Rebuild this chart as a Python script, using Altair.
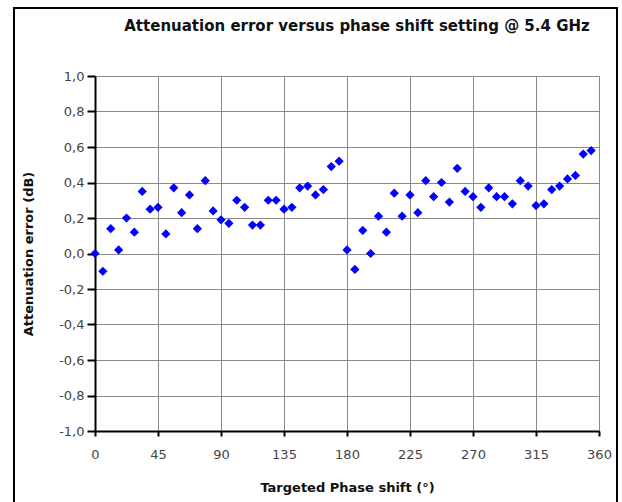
import altair as alt
import pandas as pd

# 64 phase states, step 5.625 deg
phase_step = 5.625
att_error = [
    0.00, -0.10, 0.14, 0.02, 0.20, 0.12, 0.35, 0.25, 0.26, 0.11,
    0.37, 0.23, 0.33, 0.14, 0.41, 0.24, 0.19, 0.17, 0.30, 0.26,
    0.16, 0.16, 0.30, 0.30, 0.25, 0.26, 0.37, 0.38, 0.33, 0.36,
    0.49, 0.52, 0.02, -0.09, 0.13, 0.00, 0.21, 0.12, 0.34, 0.21,
    0.33, 0.23, 0.41, 0.32, 0.40, 0.29, 0.48, 0.35, 0.32, 0.26,
    0.37, 0.32, 0.32, 0.28, 0.41, 0.38, 0.27, 0.28, 0.36, 0.38,
    0.42, 0.44, 0.56, 0.58,
]
phase = [i * phase_step for i in range(len(att_error))]

x_ticks = [0, 45, 90, 135, 180, 225, 270, 315, 360]
y_ticks = [-1.0, -0.8, -0.6, -0.4, -0.2, 0.0, 0.2, 0.4, 0.6, 0.8, 1.0]

title_text = "Attenuation error versus phase shift setting @ 5.4 GHz"
x_title = "Targeted Phase shift (°)"
y_title = "Attenuation error (dB)"

df = pd.DataFrame({"phase": phase, "err": att_error})

FONT = "DejaVu Sans"

points = alt.Chart(df).mark_point(
    shape="diamond", filled=True, color="#0000FF", size=85, opacity=1
).encode(
    x=alt.X(
        "phase:Q",
        scale=alt.Scale(domain=[0, 360], nice=False),
        axis=alt.Axis(
            values=x_ticks,
            title=x_title,
            format="d",
            tickSize=5,
            labelPadding=12,
            labelFlush=False,
            titlePadding=20,
            grid=True,
        ),
    ),
    y=alt.Y(
        "err:Q",
        scale=alt.Scale(domain=[-1, 1], nice=False),
        axis=alt.Axis(
            values=y_ticks,
            title=y_title,
            labelExpr="(datum.value < -0.0001 ? '-' : '') + replace(format(abs(datum.value), '.1f'), '.', ',')",
            tickSize=8,
            labelPadding=3,
            labelFlush=False,
            titlePadding=23,
            grid=True,
        ),
    ),
)

border = alt.Chart(pd.DataFrame({"a": [0]})).mark_rect(
    fill=None, stroke="black", strokeWidth=2, clip=False
).encode(
    x=alt.value(-81), x2=alt.value(522), y=alt.value(-68), y2=alt.value(440)
)

title = alt.Chart(pd.DataFrame({"t": [title_text]})).mark_text(
    font=FONT, fontSize=15, fontWeight="bold", color="#111",
    align="center", baseline="middle", clip=False
).encode(
    text="t:N", x=alt.value(262), y=alt.value(-50)
)

chart = alt.layer(border, title, points).properties(
    width=504,
    height=355,
    padding={"left": 95, "top": 76, "right": 23, "bottom": 71},
    autosize=alt.AutoSizeParams(type="none"),
    background="white",
).configure_view(
    stroke="#bbbbbb", strokeWidth=1
).configure_axis(
    labelFont=FONT,
    labelFontSize=13,
    labelColor="#444",
    titleFont=FONT,
    titleFontSize=13,
    titleFontWeight="bold",
    titleColor="#111",
    domainColor="black",
    domainWidth=2,
    tickColor="black",
    tickWidth=2,
    gridColor="#8a8a8a",
    gridWidth=1,
)

chart.save("out.html", embed_options={"renderer": "svg", "actions": False})
